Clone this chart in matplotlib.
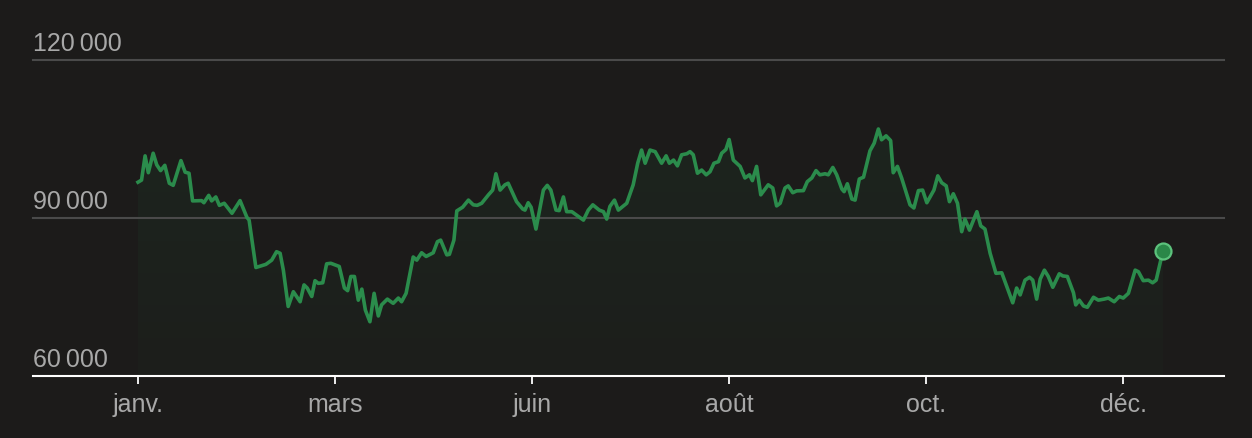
import matplotlib.pyplot as plt
import numpy as np
from matplotlib.colors import LinearSegmentedColormap
from matplotlib.patches import Polygon

# day offsets from the start of the series, and values (thousands)
days = [0, 1.1, 2.2, 3.2, 4.7, 5.8, 7.0, 8.3, 9.7, 10.9,
        13.3, 14.6, 15.8, 16.9, 19.7, 20.4, 21.9, 22.8, 24.1, 25.2,
        26.7, 29.1, 31.6, 33.7, 34.4, 36.5, 39.6, 41.4, 42.9, 44.0,
        45.0, 46.5, 48.1, 50.2, 51.4, 52.4, 53.8, 54.8, 55.8, 57.2,
        58.4, 59.7, 62.3, 63.9, 64.9, 65.9, 67.0, 68.2, 69.3, 70.4,
        71.8, 73.1, 74.4, 75.4, 77.2, 79.0, 80.6, 81.6, 83.0, 85.2,
        86.3, 87.8, 89.2, 91.4, 92.7, 93.7, 95.6, 96.4, 97.8, 98.7,
        100.5, 102.3, 103.8, 105.0, 106.4, 108.5, 109.8, 110.8, 112.1, 113.6,
        114.6, 117.2, 119.1, 119.8, 120.8, 121.7, 123.2, 125.5, 126.7, 127.8,
        129.4, 130.4, 131.7, 132.7, 134.3, 136.3, 137.9, 139.4, 140.8, 142.8,
        144.1, 145.1, 146.1, 147.5, 148.7, 151.3, 153.3, 154.7, 155.9, 157.0,
        158.5, 160.1, 162.1, 163.5, 164.5, 165.8, 167.0, 168.3, 169.9, 170.9,
        171.9, 173.2, 174.5, 175.9, 177.1, 178.3, 179.7, 180.7, 182.0, 183.0,
        184.3, 186.4, 187.9, 189.3, 190.2, 191.5, 192.8, 195.1, 196.5, 197.7,
        198.8, 200.3, 201.3, 202.7, 203.9, 206.0, 207.2, 208.6, 209.9, 211.1,
        212.7, 213.7, 215.1, 216.3, 217.9, 218.6, 219.6, 221.0, 222.0, 223.3,
        224.6, 226.6, 227.9, 229.2, 230.2, 231.6, 233.0, 233.8, 235.1, 236.4,
        239.0, 240.2, 241.6, 242.9, 244.2, 246.4, 247.6, 248.8, 250.2, 251.2,
        252.4, 253.7, 255.0, 256.0, 257.4, 259.7, 260.9, 262.2, 263.8, 265.6,
        267.4, 270.8, 272.0, 273.1, 274.6, 276.0, 277.0, 278.2, 279.3, 280.6,
        281.8, 283.2, 285.2, 286.3, 287.7, 289.6, 290.3, 291.4, 292.7, 293.9,
        295.8, 297.3, 299.1, 300.4, 302.2, 303.8, 305.0, 306.6, 308.7, 309.7,
        311.2, 312.8, 314.1, 315.2, 317.3]
values_k = [96.8, 97.2, 101.8, 98.6, 102.3, 100.1, 99.0, 100.0, 96.6, 96.2,
            100.9, 98.7, 98.5, 93.25, 93.3, 92.9, 94.3, 93.25, 94.0, 92.4,
            92.8, 90.9, 93.3, 90.15, 89.6, 80.6, 81.2, 82.0, 83.6, 83.3,
            80.1, 73.2, 76.0, 74.1, 77.3, 76.7, 75.1, 78.1, 77.6, 77.7,
            81.3, 81.4, 80.8, 76.7, 76.2, 78.9, 78.9, 74.4, 76.5, 72.5,
            70.3, 75.7, 71.4, 73.5, 74.6, 73.8, 74.8, 74.1, 75.7, 82.6,
            82.0, 83.4, 82.7, 83.4, 85.5, 85.8, 83.0, 83.1, 85.8, 91.35,
            92.05, 93.4, 92.5, 92.4, 92.8, 94.4, 95.3, 98.4, 95.3, 96.3,
            96.6, 93.1, 91.7, 91.5, 92.9, 92.05, 87.9, 95.3, 96.2, 95.3,
            91.5, 91.4, 94.0, 91.2, 91.2, 90.3, 89.6, 91.5, 92.5, 91.5,
            91.2, 89.8, 92.2, 93.4, 91.5, 92.8, 96.3, 100.4, 102.9, 100.4,
            102.9, 102.6, 100.4, 101.8, 100.4, 101.0, 99.9, 102.0, 102.2, 102.6,
            102.0, 98.5, 99.1, 98.2, 98.8, 100.4, 100.7, 102.3, 103.0, 104.9,
            101.0, 99.8, 97.6, 98.2, 97.1, 99.8, 94.4, 96.3, 95.7, 92.3,
            92.8, 95.7, 96.1, 94.8, 95.15, 95.2, 96.9, 97.6, 99.0, 98.2,
            98.4, 98.2, 99.6, 98.2, 95.5, 95.0, 96.5, 93.6, 93.4, 97.4,
            97.75, 102.75, 104.2, 106.9, 104.85, 105.6, 104.7, 98.6, 99.8, 97.6,
            92.5, 91.9, 95.2, 95.3, 92.9, 95.3, 98.0, 96.7, 96.1, 93.1,
            94.6, 92.8, 87.4, 89.8, 87.7, 91.2, 88.5, 87.9, 83.3, 79.5,
            79.6, 73.9, 76.7, 75.4, 78.2, 78.75, 78.2, 74.6, 78.4, 80.1,
            78.9, 76.85, 79.4, 79.0, 78.9, 75.8, 73.5, 74.4, 73.3, 73.05,
            74.95, 74.4, 74.6, 74.8, 74.1, 75.1, 74.8, 75.7, 80.1, 79.8,
            78.1, 78.2, 77.7, 78.2, 83.75]

tick_days = [0, 61, 122, 183, 244, 305]
tick_labels = ['janv.', 'mars', 'juin', 'août', 'oct.', 'déc.']
y_levels = [60000, 90000, 120000]
y_labels = ['60\u2009000', '90\u2009000', '120\u2009000']

x = np.array(days)
y = np.array(values_k) * 1000

BG = '#1c1b1a'
GREEN = '#2b8c4c'
TXT = '#a8a8a8'

plt.rcParams['font.family'] = ['Liberation Sans', 'DejaVu Sans']

fig = plt.figure(figsize=(12.52, 4.38), dpi=100, facecolor=BG)
ax = fig.add_axes([33 / 1252, 62 / 438, (1224 - 33) / 1252, 316 / 438])
ax.set_facecolor(BG)
ax.set_xlim(-32.5, 336.2)
ax.set_ylim(60000, 120000)

# gradient fill under the line
cmap = LinearSegmentedColormap.from_list(
    'g', [(0.16, 0.55, 0.30, 0.03), (0.16, 0.55, 0.30, 0.09)])
grad = np.linspace(0, 1, 256).reshape(-1, 1)
img = ax.imshow(grad, cmap=cmap, aspect='auto', origin='lower',
                extent=[x[0], x[-1], 60000, y.max()], zorder=1)
poly = Polygon(np.column_stack([np.r_[x[0], x, x[-1]],
                                np.r_[60000, y, 60000]]),
               closed=True, facecolor='none', edgecolor='none')
ax.add_patch(poly)
img.set_clip_path(poly)

# grid lines and labels
for lev, lab in zip(y_levels, y_labels):
    if lev > 60000:
        ax.axhline(lev, color='#4a4a4a', lw=1.5, zorder=2, clip_on=False)
    ax.text(-32.5, lev + 800, lab, color=TXT, fontsize=18,
            ha='left', va='bottom')

ax.plot(x, y, color=GREEN, lw=2.6, zorder=3, solid_joinstyle='round')
ax.plot(x[-1], y[-1], 'o', ms=11.5, mfc='#2a8748', mec='#5cc27c',
        mew=1.6, zorder=4, clip_on=False)

for s in ['top', 'left', 'right']:
    ax.spines[s].set_visible(False)
ax.spines['bottom'].set_color('white')
ax.spines['bottom'].set_linewidth(1.5)

ax.set_yticks([])
ax.set_xticks(tick_days)
ax.set_xticklabels(tick_labels)
ax.tick_params(axis='x', colors='white', length=6, width=1.3, pad=6,
               labelsize=18, labelcolor=TXT)

fig.savefig('out.png', dpi=100, facecolor=BG)
